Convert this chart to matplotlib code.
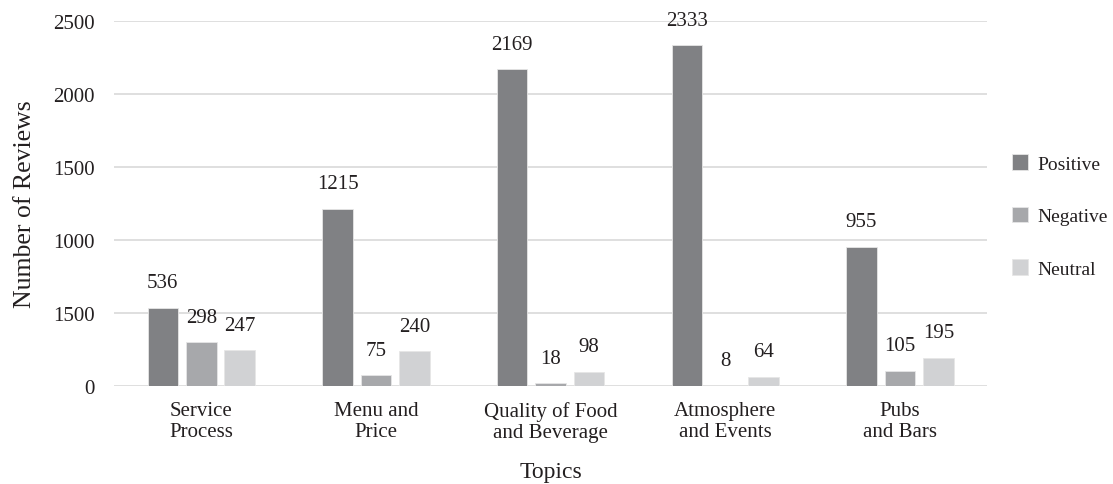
import matplotlib
matplotlib.use("Agg")
import matplotlib.pyplot as plt
import numpy as np

categories = ["Service\nProcess", "Menu and\nPrice", "Quality of Food\nand Beverage", "Atmosphere\nand Events", "Pubs\nand Bars"]
positive = [536, 1215, 2169, 2333, 955]
negative = [298, 75, 18, 8, 105]
neutral = [247, 240, 98, 64, 195]
series_names = ["Positive", "Negative", "Neutral"]
ytick_values = [0, 500, 1000, 1500, 2000, 2500]
ytick_labels = ["0", "1500", "1000", "1500", "2000", "2500"]

colors = ["#808184", "#a7a8ab", "#d1d2d4"]
plt.rcParams['font.family'] = ['Liberation Serif', 'DejaVu Serif']
txt = "#231f20"

fig = plt.figure(figsize=(11.13, 4.85), dpi=100)
ax = fig.add_axes([0.1024, 0.202, 0.7846, 0.753])

x = np.arange(len(categories))
w = 0.175
offsets = [-0.22, 0.0, 0.22]
handles = []
for vals, off, c, name in zip([positive, negative, neutral], offsets, colors, series_names):
    bars = ax.bar(x + off, vals, width=w, color=c, edgecolor="#e6e6e6", linewidth=0.6, label=name, zorder=3)
    handles.append(bars)
    for b, v in zip(bars, vals):
        ax.annotate(str(v), (b.get_x() + b.get_width() / 2, v), xytext=(0, 11),
                    textcoords="offset points", ha="center", va="bottom", fontsize=15, color=txt)

ax.set_xlim(-0.5, len(categories) - 0.5)
ax.set_ylim(0, 2500)
ax.set_yticks(ytick_values)
ax.set_yticklabels(ytick_labels)
ax.set_xticks(x)
ax.set_xticklabels(categories, linespacing=1.1)
ax.tick_params(axis="both", length=0, labelsize=15, colors=txt)
ax.tick_params(axis="y", pad=14)
ax.tick_params(axis="x", pad=11)
for s in ax.spines.values():
    s.set_visible(False)
ax.yaxis.grid(True, color="#d9d9d9", linewidth=1.2, zorder=0)
ax.set_axisbelow(True)

ax.set_ylabel("Number of Reviews", fontsize=18.5, color=txt, labelpad=12)
ax.set_xlabel("Topics", fontsize=17, color=txt, labelpad=14)

fig.legend(handles=handles, labels=series_names, loc="center left", bbox_to_anchor=(0.909, 0.553),
           frameon=False, fontsize=14, handlelength=0.85, handleheight=0.85, handletextpad=0.45,
           labelspacing=1.75, labelcolor=txt, borderpad=0, borderaxespad=0)

fig.savefig("out.png", dpi=100)
